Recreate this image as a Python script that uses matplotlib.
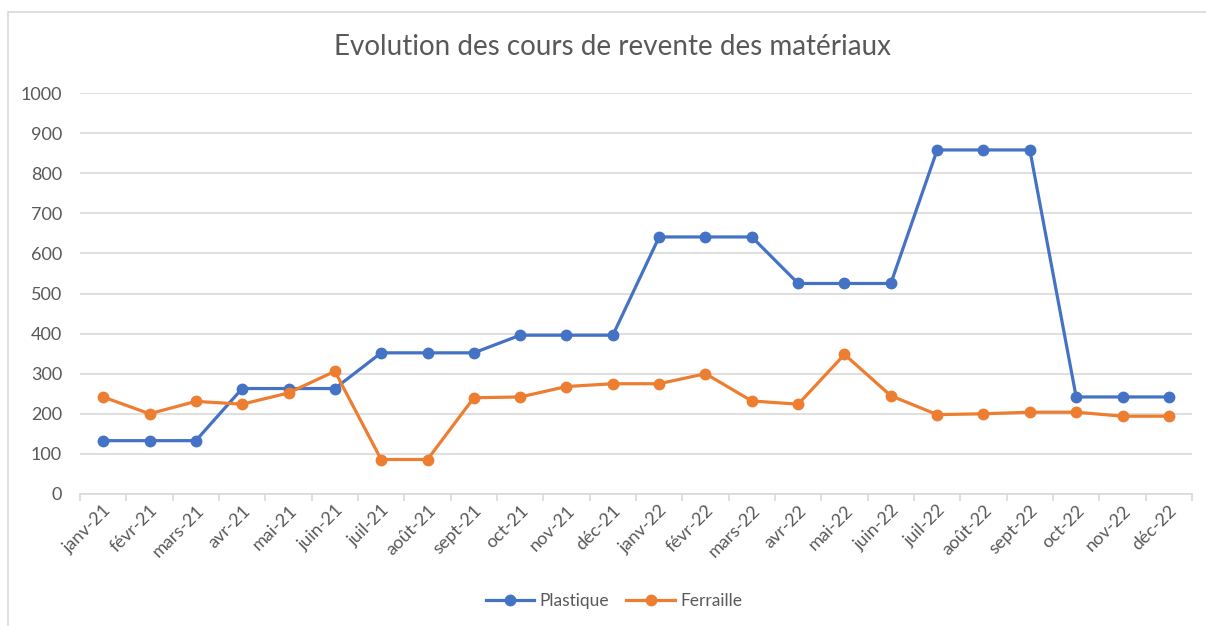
import matplotlib
matplotlib.use("Agg")
import matplotlib.pyplot as plt
from matplotlib.patches import Rectangle

plt.rcParams['font.family'] = ['Lato', 'DejaVu Sans']

months = ["janv-21", "févr-21", "mars-21", "avr-21", "mai-21", "juin-21",
          "juil-21", "août-21", "sept-21", "oct-21", "nov-21", "déc-21",
          "janv-22", "févr-22", "mars-22", "avr-22", "mai-22", "juin-22",
          "juil-22", "août-22", "sept-22", "oct-22", "nov-22", "déc-22"]
plastique = [133, 133, 133, 263, 263, 263, 352, 352, 352, 396, 396, 396,
             641, 641, 641, 525, 525, 525, 858, 858, 858, 242, 242, 242]
ferraille = [242, 200, 231, 224, 252, 306, 86, 86, 240, 242, 268, 275,
             275, 300, 232, 224, 348, 245, 198, 200, 204, 204, 194, 194]
yticks = list(range(0, 1001, 100))

W, H = 1206, 626
fig = plt.figure(figsize=(W/100, H/100), dpi=100)
fig.patches.append(Rectangle((8/W, -0.1), 1.2, 1 - 12/H + 0.1, transform=fig.transFigure,
                             fill=False, edgecolor='#d9d9d9', linewidth=1.2))
ax = fig.add_axes([80/W, 1 - 494/H, (1192-80)/W, (494-93)/H])

x = list(range(len(months)))
ax.plot(x, plastique, color='#4472C4', lw=2.3, marker='o', ms=7.5, label='Plastique', zorder=3)
ax.plot(x, ferraille, color='#ED7D31', lw=2.3, marker='o', ms=7.5, label='Ferraille', zorder=3)

ax.set_xlim(-0.5, len(months) - 0.5)
ax.set_ylim(0, 1000)
ax.set_yticks(yticks)
ax.set_yticklabels([str(v) for v in yticks], fontsize=13, color='#595959')
ax.yaxis.grid(True, color='#d9d9d9', lw=1.2)
ax.set_axisbelow(True)
ax.tick_params(axis='y', length=0, pad=13)

ax.set_xticks(x)
ax.set_xticklabels(months, rotation=45, ha='right', va='top', rotation_mode='anchor',
                   fontsize=13, color='#595959')
ax.set_xticks([i - 0.5 for i in range(len(months) + 1)], minor=True)
ax.tick_params(axis='x', which='major', length=0, pad=6)
ax.tick_params(axis='x', which='minor', length=5, color='#d9d9d9', width=1.2)

for s in ['top', 'right', 'left']:
    ax.spines[s].set_visible(False)
ax.spines['bottom'].set_color('#d9d9d9')
ax.spines['bottom'].set_linewidth(1.2)

fig.text(612/W, 1 - 47/H, "Evolution des cours de revente des matériaux",
         ha='center', va='center', fontsize=20, color='#595959')

fig.legend(loc='center', bbox_to_anchor=(614/W, 1 - 601/H), ncol=2, frameon=False,
           fontsize=12.5, labelcolor='#595959', handlelength=2.8, columnspacing=1.0,
           handletextpad=0.3)

fig.savefig("out.png", dpi=100)
